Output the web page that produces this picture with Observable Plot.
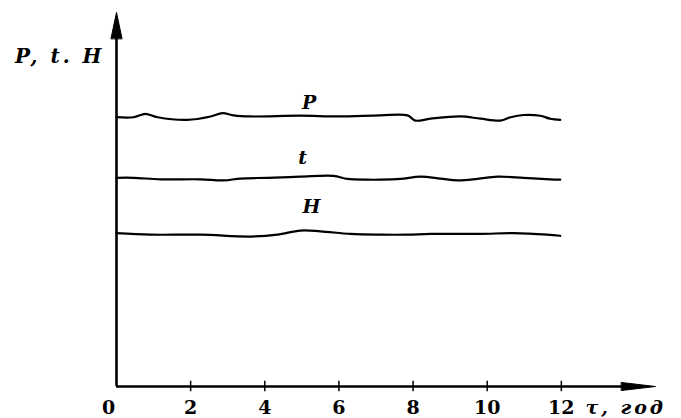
<!DOCTYPE html>
<html>
<head>
<meta charset="utf-8">
<script src="https://cdn.jsdelivr.net/npm/d3@7"></script>
<script src="https://cdn.jsdelivr.net/npm/@observablehq/plot@0.6"></script>
<style>
  html, body { margin: 0; padding: 0; background: #fff; }
  svg { display: block; }
</style>
</head>
<body>
<div id="chart"></div>
<script>
// ---- data ----
const xTicks = [0, 2, 4, 6, 8, 10, 12];
const xLabel = "τ, год";
const yLabel = "P, t. H";

const pX = [0, 0.46, 0.78, 1.11, 1.91, 2.54, 2.86, 3.16, 3.61, 4.96, 6.0, 7.12, 7.85, 8.06, 8.47, 9.28, 9.82, 10.36, 10.63, 10.98, 11.43, 11.70, 11.97];
const pY = [72.0, 72.0, 72.9, 72.0, 71.3, 72.2, 73.1, 72.5, 72.2, 72.4, 72.2, 72.5, 72.5, 71.1, 71.6, 72.2, 71.6, 71.1, 72.0, 72.6, 72.4, 71.6, 71.3];

const tX = [0, 0.46, 1.19, 2.27, 2.89, 3.34, 4.07, 4.96, 5.85, 6.23, 6.77, 7.12, 7.66, 8.20, 8.74, 9.20, 9.74, 10.27, 10.98, 11.70, 11.97];
const tY = [55.8, 55.8, 55.4, 55.4, 55.1, 55.6, 55.8, 56.1, 56.3, 55.5, 55.3, 55.3, 55.5, 56.1, 55.6, 55.1, 55.5, 56.1, 55.8, 55.4, 55.3];

const hX = [0, 0.92, 2.27, 3.61, 4.34, 4.96, 5.50, 6.31, 7.12, 7.85, 8.47, 9.82, 10.71, 11.62, 11.97];
const hY = [41.0, 40.6, 40.6, 40.1, 40.6, 41.7, 41.5, 40.8, 40.6, 40.6, 40.8, 40.8, 41.0, 40.6, 40.3];

const seriesNames = ["P", "t", "H"];
const seriesLabelX = [5.2, 5.02, 5.26];
const seriesLabelY = [75.9, 61.0, 48.1];

// ---- build tables ----
const toRows = (xs, ys) => xs.map((x, i) => ({x, y: ys[i]}));
const pRows = toRows(pX, pY);
const tRows = toRows(tX, tY);
const hRows = toRows(hX, hY);
const labelRows = seriesNames.map((name, i) => ({name, x: seriesLabelX[i], y: seriesLabelY[i]}));

const arrowHead = (w) => ({
  draw(ctx, l) {
    ctx.moveTo(-w, 0);
    ctx.lineTo(0, -l);
    ctx.lineTo(w, 0);
    ctx.closePath();
  }
});

const serif = "DejaVu Serif";

const chart = Plot.plot({
  width: 681,
  height: 418,
  marginLeft: 116,
  marginRight: 26,
  marginTop: 12,
  marginBottom: 32,
  x: {domain: [0, 14.54], axis: null},
  y: {domain: [0, 100], axis: null},
  marks: [
    // axes
    Plot.ruleX([0], {y1: 0, y2: 94, stroke: "black", strokeWidth: 2.6}),
    Plot.ruleY([0], {x1: 0, x2: 14, stroke: "black", strokeWidth: 2.6}),
    Plot.vector([{x: 0, y: 100}], {x: "x", y: "y", length: 26, rotate: 0, anchor: "end",
      shape: arrowHead(5.5), fill: "black", stroke: "black", strokeWidth: 1}),
    Plot.vector([{x: 14.54, y: 0}], {x: "x", y: "y", length: 34, rotate: 90, anchor: "end",
      shape: arrowHead(4), fill: "black", stroke: "black", strokeWidth: 1}),
    // tick marks
    Plot.ruleX(xTicks.filter(d => d > 0), {y1: -1.4, y2: 1.4, stroke: "black", strokeWidth: 1.5}),
    // tick labels
    Plot.text(xTicks.filter(d => d === 0), {x: d => d, y: 0, dy: 21, dx: -8, text: d => String(d),
      fontFamily: serif, fontWeight: "bold", fontSize: 19, fill: "black"}),
    Plot.text(xTicks.filter(d => d > 0), {x: d => d, y: 0, dy: 21, text: d => String(d),
      fontFamily: serif, fontWeight: "bold", fontSize: 19, fill: "black"}),
    Plot.text([xLabel], {x: 12.65, y: 0, dy: 21, text: d => d, textAnchor: "start",
      fontFamily: serif, fontWeight: "bold", fontStyle: "italic", fontSize: 19, fill: "black"}),
    Plot.text([yLabel], {frameAnchor: "top-left", dx: -12, dy: 36, text: d => d, textAnchor: "end",
      fontFamily: serif, fontWeight: "bold", fontStyle: "italic", fontSize: 20, fill: "black"}),
    // series
    Plot.line(pRows, {x: "x", y: "y", curve: "catmull-rom", stroke: "black", strokeWidth: 2.2}),
    Plot.line(tRows, {x: "x", y: "y", curve: "catmull-rom", stroke: "black", strokeWidth: 2.2}),
    Plot.line(hRows, {x: "x", y: "y", curve: "catmull-rom", stroke: "black", strokeWidth: 2.2}),
    Plot.text(labelRows, {x: "x", y: "y", text: "name",
      fontFamily: serif, fontWeight: "bold", fontStyle: "italic", fontSize: 19, fill: "black"})
  ]
});
// widen the letter spacing of the two axis titles, as in the printed original
d3.select(chart).selectAll("text")
  .filter(function () { return this.textContent === yLabel || this.textContent === xLabel; })
  .attr("letter-spacing", 3);
document.getElementById("chart").appendChild(chart);
</script>
</body>
</html>
